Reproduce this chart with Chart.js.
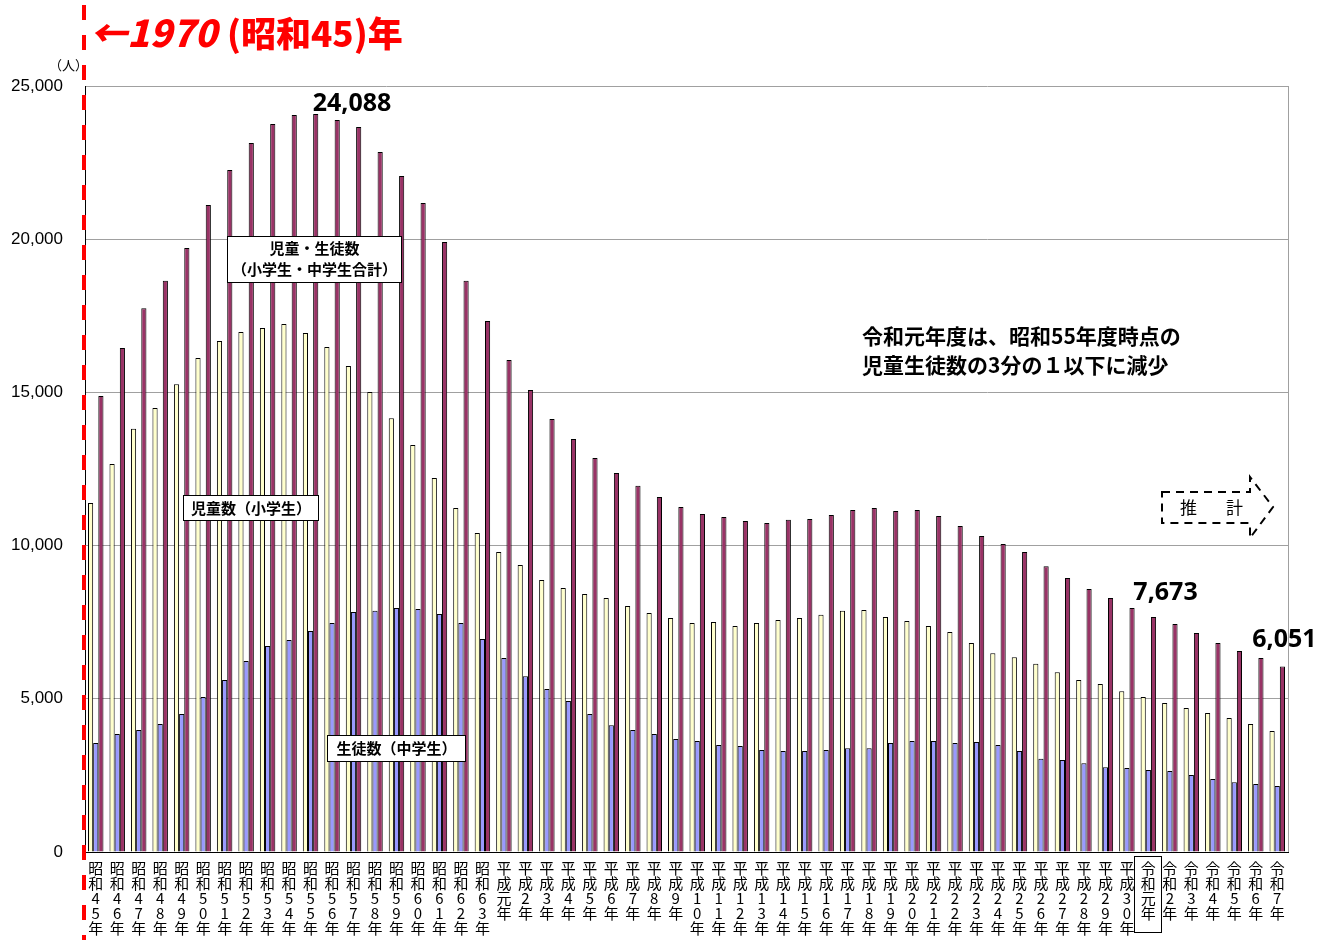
<!DOCTYPE html>
<html><head><meta charset="utf-8">
<script src="https://cdn.jsdelivr.net/npm/chart.js@4.4.1/dist/chart.umd.min.js"></script>
<style>html,body{margin:0;padding:0;background:#fff;}canvas{display:block;}</style>
</head><body>
<canvas id="c" width="1331" height="940"></canvas>
<script>
const categories = ['昭和45年','昭和46年','昭和47年','昭和48年','昭和49年','昭和50年','昭和51年','昭和52年','昭和53年','昭和54年','昭和55年','昭和56年','昭和57年','昭和58年','昭和59年','昭和60年','昭和61年','昭和62年','昭和63年',
'平成元年','平成2年','平成3年','平成4年','平成5年','平成6年','平成7年','平成8年','平成9年','平成10年','平成11年','平成12年','平成13年','平成14年','平成15年','平成16年','平成17年','平成18年','平成19年','平成20年','平成21年','平成22年','平成23年','平成24年','平成25年','平成26年','平成27年','平成28年','平成29年','平成30年',
'令和元年','令和2年','令和3年','令和4年','令和5年','令和6年','令和7年'];

const elementary = [11390,12660,13810,14490,15270,16120,16680,16970,17100,17230, 16940,16480,15860,15010,14160,13280,12210,11230,10410,9790, 9370,8880,8620,8420,8290,8030,7800,7640,7470,7510, 7380,7470,7570,7640,7740,7870,7900,7670,7540,7380, 7180,6820,6490,6360,6140,5870,5610,5480,5250,5060, 4860,4700,4540,4370,4180,3950];
const juniorHigh = [3560,3850,3980,4180,4500,5060,5610,6230,6720,6920, 7210,7470,7830,7870,7960,7930,7770,7470,6950,6330, 5740,5320,4930,4500,4140,3980,3850,3690,3620,3490, 3460,3330,3300,3300,3330,3390,3390,3560,3620,3620, 3560,3590,3490,3300,3040,3000,2900,2770,2740,2680, 2640,2510,2380,2280,2220,2150];
const total = [14880,16450,17750,18640,19710,21120,22260,23140,23760,24050, 24088,23890,23660,22850,22060,21180,19910,18640,17330,16060, 15080,14130,13480,12860,12370,11950,11590,11260,11030,10930, 10800,10740,10840,10870,11000,11160,11230,11130,11160,10970, 10640,10310,10050,9790,9330,8940,8580,8290,7960,7673, 7440,7150,6820,6560,6330,6051];
const yTicks = [0,5000,10000,15000,20000,25000];
const seriesNames = ['児童数（小学生）','生徒数（中学生）','児童・生徒数（小学生・中学生合計）'];
const labelled = [10, 49, 55];
const estimateStart = '令和元年';

const CJK = '"Noto Sans CJK JP", "Noto Sans", sans-serif';

const overlay = {
  id: 'overlay',
  afterDraw(chart) {
    const ctx = chart.ctx, xs = chart.scales.x, ca = chart.chartArea;
    ctx.save();
    ctx.strokeStyle = '#a0a0a0'; ctx.lineWidth = 1;
    ctx.beginPath(); ctx.moveTo(ca.right + 0.5, ca.top); ctx.lineTo(ca.right + 0.5, ca.bottom); ctx.stroke();

    function box(x0, y0, x1, y1, lines, ys, font) {
      ctx.fillStyle = '#fff'; ctx.fillRect(x0, y0, x1 - x0, y1 - y0);
      ctx.strokeStyle = '#000'; ctx.lineWidth = 1; ctx.setLineDash([]);
      ctx.strokeRect(x0 + 0.5, y0 + 0.5, x1 - x0 - 1, y1 - y0 - 1);
      ctx.fillStyle = '#000'; ctx.font = font; ctx.textAlign = 'center'; ctx.textBaseline = 'middle';
      lines.forEach((t, i) => ctx.fillText(t, (x0 + x1) / 2, ys[i]));
    }
    box(227, 236, 402, 283, ['児童・生徒数', '（小学生・中学生合計）'], [248, 269], 'bold 15px ' + CJK);
    box(183, 495, 319, 521, ['児童数（小学生）'], [508], 'bold 15px ' + CJK);
    box(327, 735, 466, 762, ['生徒数（中学生）'], [748], 'bold 15px ' + CJK);

    ctx.fillStyle = '#000'; ctx.font = 'bold 21px ' + CJK; ctx.textAlign = 'left'; ctx.textBaseline = 'middle';
    ctx.fillText('令和元年度は、昭和55年度時点の', 862, 336);
    ctx.fillText('児童生徒数の3分の１以下に減少', 862, 365);

    const meta = chart.getDatasetMeta(2);
    ctx.font = 'bold 25px "Noto Sans", sans-serif'; ctx.textBaseline = 'alphabetic';
    const b0 = meta.data[labelled[0]];
    ctx.textAlign = 'left'; ctx.fillText(total[labelled[0]].toLocaleString('en-US'), b0.x - 3, b0.y - 3);
    const b1 = meta.data[labelled[1]];
    ctx.textAlign = 'center'; ctx.fillText(total[labelled[1]].toLocaleString('en-US'), b1.x + 12, b1.y - 17);
    const b2 = meta.data[labelled[2]];
    ctx.fillText(total[labelled[2]].toLocaleString('en-US'), b2.x + 2, b2.y - 20);

    const ei = categories.indexOf(estimateStart);
    const ex = xs.getPixelForValue(ei);
    ctx.strokeStyle = '#000'; ctx.lineWidth = 1;
    ctx.strokeRect(Math.round(ex - 14) + 0.5, 856.5, 27, 76);

    ctx.setLineDash([8, 6]); ctx.lineWidth = 2;
    ctx.beginPath();
    ctx.moveTo(1162, 492); ctx.lineTo(1250, 492); ctx.lineTo(1250, 477); ctx.lineTo(1273, 507);
    ctx.lineTo(1250, 538); ctx.lineTo(1250, 523); ctx.lineTo(1162, 523); ctx.closePath(); ctx.stroke();
    ctx.setLineDash([]);
    ctx.font = '17px ' + CJK; ctx.textAlign = 'left'; ctx.textBaseline = 'middle';
    ctx.fillText('推', 1180, 508); ctx.fillText('計', 1226, 508);

    ctx.font = '13px ' + CJK; ctx.textAlign = 'left';
    ctx.fillText('（人）', 49, 65);

    ctx.strokeStyle = '#ff0000'; ctx.lineWidth = 4; ctx.setLineDash([15, 15]);
    ctx.beginPath(); ctx.moveTo(84, 5); ctx.lineTo(84, 940); ctx.stroke();
    ctx.setLineDash([]);

    ctx.fillStyle = '#ff0000'; ctx.textBaseline = 'alphabetic'; ctx.textAlign = 'left';
    ctx.font = 'italic 900 37px ' + CJK;
    ctx.fillText('←1970', 90, 47);
    ctx.font = '900 35px ' + CJK;
    ctx.fillText('(昭和45)年', 227, 47);
    ctx.restore();
  }
};

new Chart(document.getElementById('c'), {
  type: 'bar',
  data: {
    labels: categories,
    datasets: [
      { label: seriesNames[0], data: elementary, backgroundColor: '#FFFFCC', borderColor: '#000', borderWidth: 1 },
      { label: seriesNames[1], data: juniorHigh, backgroundColor: '#9999FF', borderColor: '#000', borderWidth: 1 },
      { label: seriesNames[2], data: total, backgroundColor: '#993366', borderColor: '#000', borderWidth: 1 }
    ]
  },
  options: {
    responsive: false, animation: false, devicePixelRatio: 1,
    layout: { padding: { left: 0, right: 43, top: 86, bottom: 0 } },
    datasets: { bar: { categoryPercentage: 0.72, barPercentage: 1.0 } },
    plugins: { legend: { display: false }, tooltip: { enabled: false } },
    scales: {
      x: {
        grid: { display: false, drawTicks: false },
        border: { display: true, color: '#000', width: 1 },
        ticks: {
          autoSkip: false, maxRotation: 0, minRotation: 0, padding: 9, color: '#000',
          font: { family: CJK, size: 15, lineHeight: 1.0 },
          callback: (v, i) => Array.from(categories[i])
        },
        afterFit: s => { s.height = 88; }
      },
      y: {
        min: 0, max: 25000,
        afterBuildTicks: s => { s.ticks = yTicks.map(v => ({ value: v })); },
        grid: { color: '#a0a0a0', drawTicks: false },
        border: { display: true, color: '#000', width: 1 },
        ticks: {
          padding: 22, color: '#000',
          font: { family: '"Liberation Sans", Arial, sans-serif', size: 17 },
          callback: v => v.toLocaleString('en-US')
        },
        afterFit: s => { s.width = 85; }
      }
    }
  },
  plugins: [overlay]
});
</script>
</body></html>
